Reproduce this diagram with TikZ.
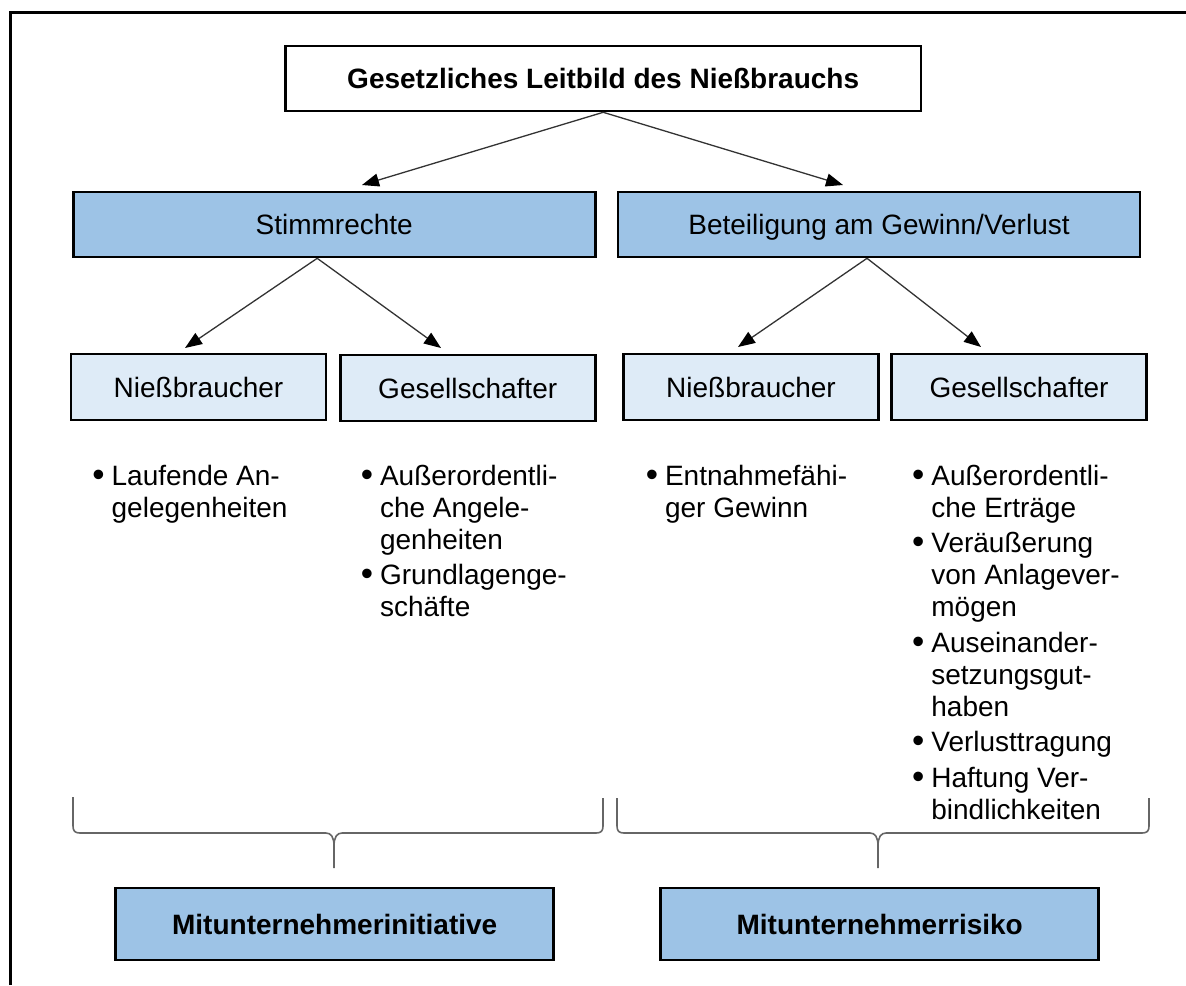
\documentclass[tikz,border=0pt]{standalone}
\usepackage{fontspec}
\setmainfont{Liberation Sans}
\usetikzlibrary{arrows.meta}
\definecolor{mittelblau}{HTML}{9DC3E6}
\definecolor{hellblau}{HTML}{DEEBF7}
\newcommand{\punkt}{\raisebox{-0.6pt}{\scalebox{1.25}{\textbullet}}}

\begin{document}
\begin{tikzpicture}[x=0.5pt,y=-0.5pt,font=\fontsize{14}{16}\selectfont]
\useasboundingbox (0,0) rectangle (1186,985);
\draw[line width=1.3pt] (10.7,985) -- (10.7,12.3) -- (1186,12.3);

\begin{scope}[every node/.style={draw,line width=1.3pt,inner sep=0pt,text height=10pt,text depth=0pt},
            ebene/.style={fill=mittelblau,minimum width=261pt,minimum height=32.5pt},
            person/.style={fill=hellblau,minimum width=127.5pt,minimum height=33pt},
            ergebnis/.style={fill=mittelblau,minimum width=219pt,minimum height=36pt,font=\fontsize{14}{16}\selectfont\bfseries}]
    \node [minimum width=317.75pt,minimum height=32.5pt] (leitbild) at (603.2,78.5)
        {\bfseries Gesetzliches Leitbild des Nießbrauchs};
    \node [ebene] (stimm)  at (334.2,224.5) {Stimmrechte};
    \node [ebene] (gewinn) at (879,224.5)   {Beteiligung am Gewinn/Verlust};
    \node [person] (nbStimm)  at (198.5,387) {Nießbraucher};
    \node [person] (gsStimm)  at (467.7,388) {Gesellschafter};
    \node [person] (nbGewinn) at (751,387)   {Nießbraucher};
    \node [person] (gsGewinn) at (1019,387)  {Gesellschafter};
    \node [ergebnis] (initiative) at (334.7,924) {Mitunternehmerinitiative};
    \node [ergebnis] (risiko)     at (879.7,924) {Mitunternehmerrisiko};
\end{scope}

\begin{scope}[>={Triangle[black,length=8.5pt,width=6.5pt]},
            every edge/.style={draw=black!80,line width=0.65pt}]
    \coordinate (zStimm)    at (362,185);
    \coordinate (zGewinn)   at (843,185);
    \coordinate (zNbStimm)  at (185,348);
    \coordinate (zGsStimm)  at (441,348);
    \coordinate (zNbGewinn) at (738,347);
    \coordinate (zGsGewinn) at (981,347);
    \path [->] (leitbild.south) edge (zStimm);
    \path [->] (leitbild.south) edge (zGewinn);
    \path [->] ([xshift=-8.5pt]stimm.south) edge (zNbStimm);
    \path [->] ([xshift=-8.5pt]stimm.south) edge (zGsStimm);
    \path [->] ([xshift=-6pt]gewinn.south)  edge (zNbGewinn);
    \path [->] ([xshift=-6pt]gewinn.south)  edge (zGsGewinn);
\end{scope}

\begin{scope}[every node/.style={anchor=base west,inner sep=0pt}]
    \node (listeNbStimm) at (92,485) {\begin{tabular}[t]{@{}l@{\hspace{3.5pt}}l@{}}
        \punkt & Laufende An-\\ & gelegenheiten\end{tabular}};
    \node (listeGsStimm) at (360.4,485) {\begin{tabular}[t]{@{}l@{\hspace{3.5pt}}l@{}}
        \punkt & Außerordentli-\\ & che Angele-\\ & genheiten\\[1.75pt]
        \punkt & Grundlagenge-\\ & schäfte\end{tabular}};
    \node (listeNbGewinn) at (645.4,485) {\begin{tabular}[t]{@{}l@{\hspace{3.5pt}}l@{}}
        \punkt & Entnahmefähi-\\ & ger Gewinn\end{tabular}};
    \node (listeGsGewinn) at (911.7,485) {\begin{tabular}[t]{@{}l@{\hspace{3.5pt}}l@{}}
        \punkt & Außerordentli-\\ & che Erträge\\[1.75pt]
        \punkt & Veräußerung\\ & von Anlagever-\\ & mögen\\[1.75pt]
        \punkt & Auseinander-\\ & setzungsgut-\\ & haben\\[1.75pt]
        \punkt & Verlusttragung\\[1.75pt]
        \punkt & Haftung Ver-\\ & bindlichkeiten\end{tabular}};
\end{scope}

% geschweifte Klammern
\begin{scope}[black!60,line width=0.8pt]
    \draw (73,797) -- (73,826) .. controls (73,831) and (75,833) .. (80,833) -- (326,833)
        .. controls (331,833) and (334,837) .. (334,846) -- (334,868);
    \draw (334,846) .. controls (334,837) and (337,833) .. (342,833) -- (596,833)
        .. controls (601,833) and (603,831) .. (603,826) -- (603,798);
    \draw (617,798) -- (617,826) .. controls (617,831) and (619,833) .. (624,833) -- (870,833)
        .. controls (875,833) and (878,837) .. (878,846) -- (878,868);
    \draw (878,846) .. controls (878,837) and (881,833) .. (886,833) -- (1142,833)
        .. controls (1147,833) and (1149,831) .. (1149,826) -- (1149,798);
\end{scope}
\end{tikzpicture}
\end{document}
